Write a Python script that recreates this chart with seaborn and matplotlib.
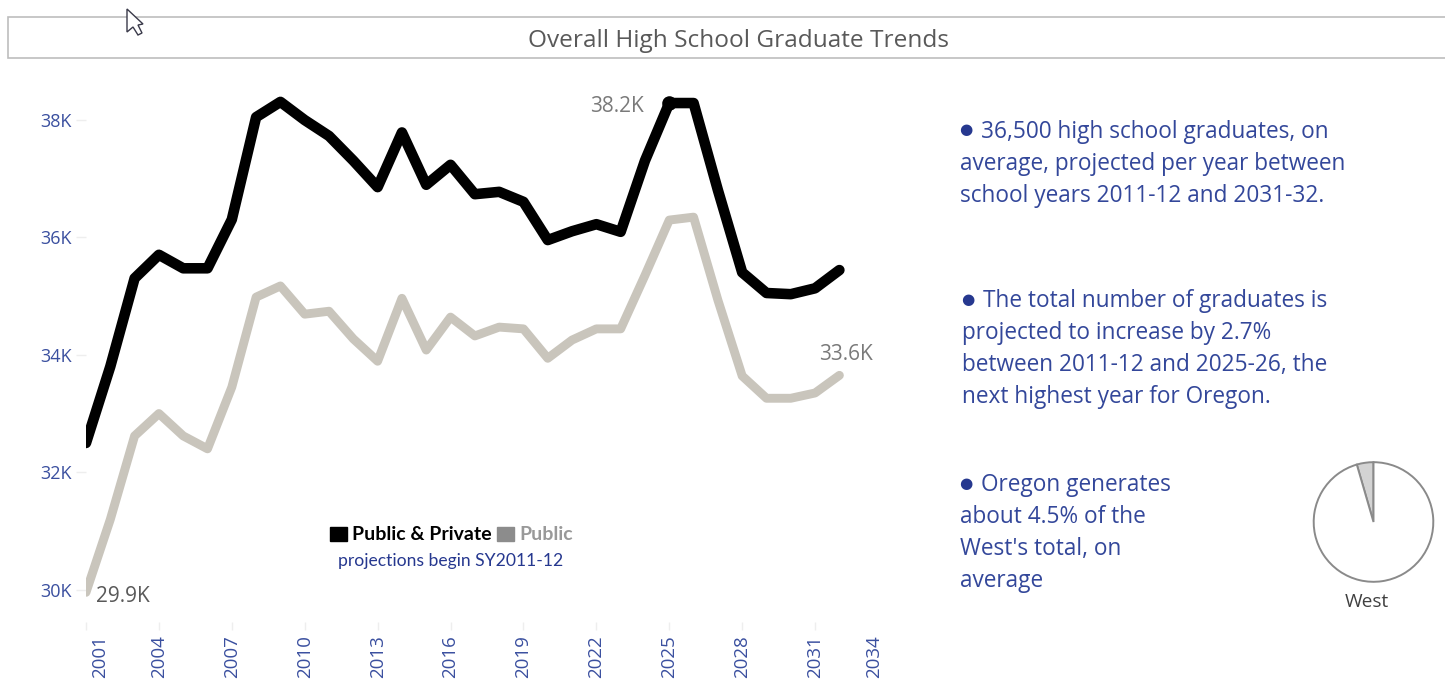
import matplotlib
matplotlib.use("Agg")
import matplotlib.pyplot as plt
import matplotlib.patches as mpatches
from matplotlib.transforms import ScaledTranslation
import pandas as pd
import seaborn as sns

W, H = 1445, 679

years = list(range(2001, 2033))
public_private = [32500, 33800, 35300, 35700, 35470, 35470, 36300, 38040, 38300, 37990, 37720, 37300,
                  36850, 37780, 36890, 37230, 36730, 36770, 36600, 35950, 36100, 36220, 36090, 37300,
                  38280, 38280, 36800, 35400, 35050, 35030, 35130, 35440]
public = [29960, 31200, 32620, 33000, 32620, 32400, 33450, 34980, 35170, 34690, 34740, 34270,
          33890, 34960, 34080, 34640, 34320, 34470, 34440, 33940, 34250, 34440, 34440, 35350,
          36290, 36340, 34930, 33640, 33260, 33260, 33350, 33650]
x_ticks = [2001, 2004, 2007, 2010, 2013, 2016, 2019, 2022, 2025, 2028, 2031, 2034]
y_ticks = [30000, 32000, 34000, 36000, 38000]
y_labels = ["30K", "32K", "34K", "36K", "38K"]
share_west = [4.5, 95.5]

title = "Overall High School Graduate Trends"
caption = "projections begin SY2011-12"
note_1 = ["\u25cf 36,500 high school graduates, on", "average, projected per year between",
          "school years 2011-12 and 2031-32."]
note_2 = ["\u25cf The total number of graduates is", "projected to increase by 2.7%",
          "between 2011-12 and 2025-26, the", "next highest year for Oregon."]
note_3 = ["\u25cf Oregon generates", "about 4.5% of the", "West's total, on", "average"]

BLUE = "#3a4f9f"
NOTE_BLUE = "#33479a"
NAVY = "#26388f"


def fx(px):
    return px / W


def fy(py):
    return 1 - py / H


def put(px, py, s, **kw):
    kw.setdefault("va", "center")
    kw.setdefault("family", ["Open Sans", "DejaVu Sans"])
    fig.text(fx(px), fy(py), s, **kw)


sns.set_theme(style="white")
plt.rcParams["font.family"] = ["Open Sans", "DejaVu Sans"]

fig = plt.figure(figsize=(W / 100, H / 100), dpi=100, facecolor="white")

# main line chart, axes box placed in pixels
ax = fig.add_axes([fx(86), fy(622), fx(888 - 86), (622 - 80) / H])
df = pd.DataFrame({"year": years * 2,
                   "graduates": public_private + public,
                   "group": ["Public & Private"] * len(years) + ["Public"] * len(years)})
sns.lineplot(data=df, x="year", y="graduates", hue="group", ax=ax, legend=False,
             palette={"Public & Private": "#000000", "Public": "#c9c5bc"},
             hue_order=["Public", "Public & Private"], lw=6.4, solid_joinstyle="round",
             solid_capstyle="round")
ax.lines[1].set_linewidth(7.6)
peak = years.index(2025)
sns.scatterplot(x=[years[peak]], y=[public_private[peak]], color="black", s=110, linewidth=0,
                ax=ax, legend=False, zorder=5)

ax.set_xlim(2001, 2034)
ax.set_ylim(30000 - (622 - 590) / 58.8 * 1000, 38000 + (119.5 - 80) / 58.8 * 1000)
ax.set_xlabel("")
ax.set_ylabel("")
for s in ax.spines.values():
    s.set_visible(False)
ax.set_xticks(x_ticks)
ax.set_yticks(y_ticks)
ax.set_yticklabels(y_labels)
ax.tick_params(axis="x", length=5.8, width=1, color="#eeeeee", labelcolor=BLUE, labelsize=13.5,
               labelrotation=90, pad=4, bottom=True)
ax.tick_params(axis="y", length=7, width=1, color="#eeeeee", labelcolor=BLUE, labelsize=13,
               pad=3, left=True)
# end labels are pushed inwards in the original
xlabels = ax.get_xticklabels()
xlabels[0].set_transform(xlabels[0].get_transform() + ScaledTranslation(14 / 100, 0, fig.dpi_scale_trans))
xlabels[-1].set_transform(xlabels[-1].get_transform() + ScaledTranslation(-14 / 100, 0, fig.dpi_scale_trans))
ax.xaxis.get_major_ticks()[-1].tick1line.set_visible(False)

# legend
handles = [mpatches.Patch(color="black", label="Public & Private"),
           mpatches.Patch(color="#8c8c8c", label="Public")]
leg = ax.legend(handles=handles, ncol=2, frameon=False, loc="center left",
                bbox_to_anchor=(fx(312), fy(535)), bbox_transform=fig.transFigure,
                handlelength=0.88, handleheight=0.75, handletextpad=0.28, columnspacing=0.28,
                prop={"family": "Lato", "weight": "bold", "size": 14})
leg.get_texts()[0].set_color("black")
leg.get_texts()[1].set_color("#999999")
put(451, 561, caption, ha="center", color=NAVY, fontsize=12.6, family="Lato")

# point labels
put(590, 106, "38.2K", color="#7a7a7a", fontsize=15)
put(819, 354, "33.6K", color="#7a7a7a", fontsize=15)
put(96, 596, "29.9K", color="#595959", fontsize=15)

# title box
fig.add_artist(mpatches.Rectangle((fx(8), fy(58)), fx(1445), 41 / H, transform=fig.transFigure,
                                  fc="white", ec="#bdbdbd", lw=1.2))
put(739, 41, title, ha="center", color="#595959", fontsize=17.6)

# mouse pointer in the screenshot
cursor = [(127, 9), (127, 32), (133, 27), (138, 35), (142, 33), (138, 25), (143, 24)]
fig.add_artist(mpatches.Polygon([(fx(a), fy(b)) for a, b in cursor], closed=True, transform=fig.transFigure,
                                fc="white", ec="#3a3a4a", lw=1))

# notes on the right, bullet drawn smaller than the text
for x0, y0, lines in [(960, 132, note_1), (962, 301, note_2), (960, 485, note_3)]:
    for i, line in enumerate(lines):
        if line.startswith("\u25cf"):
            put(x0 - 1, y0 - 2, "\u25cf", color=NAVY, fontsize=11, family="DejaVu Sans")
            put(x0 + 21, y0, line[2:], color=NOTE_BLUE, fontsize=16.3)
        else:
            put(x0, y0 + i * 32, line, color=NOTE_BLUE, fontsize=16.3)

# west share pie
r = 61
pie_ax = fig.add_axes([fx(1373.5 - r), fy(522 + r), fx(2 * r), 2 * r / H])
pie_ax.pie(share_west, startangle=90, colors=["#d3d3d3", "white"], radius=1,
           wedgeprops={"edgecolor": "#8a8a8a", "linewidth": 1.4})
pie_ax.set_xlim(-1.02, 1.02)
pie_ax.set_ylim(-1.02, 1.02)
put(1367, 602, "West", ha="center", color="#404040", fontsize=13.8)

fig.savefig("out.png", dpi=100, facecolor="white")
